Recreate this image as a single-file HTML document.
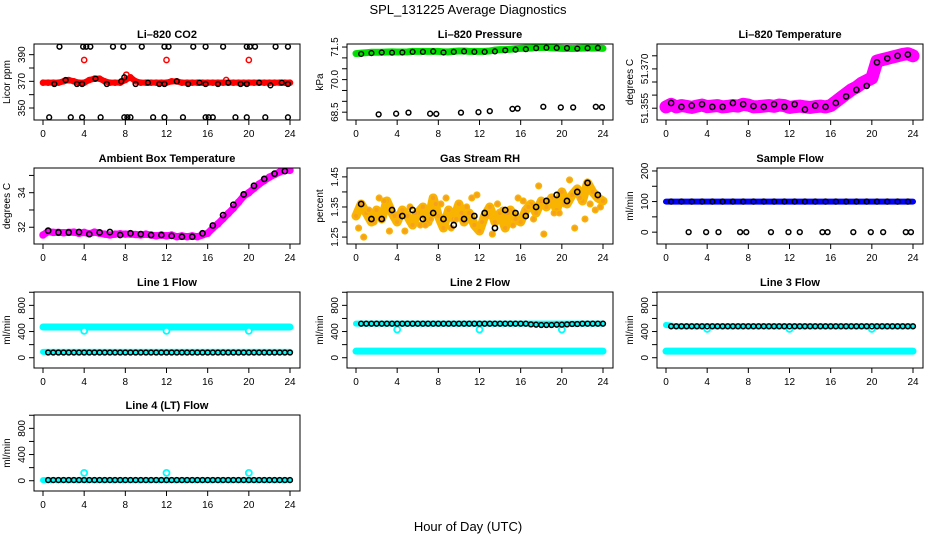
<!DOCTYPE html>
<html><head><meta charset="utf-8"><style>
body{margin:0;background:#fff;}
svg{display:block;font-family:"Liberation Sans",sans-serif;}
</style></head><body>
<svg id="c" width="936" height="540" viewBox="0 0 936 540">
<text x="468" y="14" text-anchor="middle" font-size="13">SPL_131225  Average Diagnostics</text>
<text x="468" y="531" text-anchor="middle" font-size="13">Hour of Day (UTC)</text>
</svg>
<script>
const H = [0,0.5,1,1.5,2,2.5,3,3.5,4,4.5,5,5.5,6,6.5,7,7.5,8,8.5,9,9.5,10,10.5,11,11.5,12,12.5,13,13.5,14,14.5,15,15.5,16,16.5,17,17.5,18,18.5,19,19.5,20,20.5,21,21.5,22,22.5,23,23.5,24];
const HB = [0.5,1.5,2.5,3.5,4.5,5.5,6.5,7.5,8.5,9.5,10.5,11.5,12.5,13.5,14.5,15.5,16.5,17.5,18.5,19.5,20.5,21.5,22.5,23.5];
const HBq = [0.25,1.25,2.25,3.25,4.25,5.25,6.25,7.25,8.25,9.25,10.25,11.25,12.25,13.25,14.25,15.25,16.25,17.25,18.25,19.25,20.25,21.25,22.25,23.25,0.75,1.75,2.75,3.75,4.75,5.75,6.75,7.75,8.75,9.75,10.75,11.75,12.75,13.75,14.75,15.75,16.75,17.75,18.75,19.75,20.75,21.75,22.75,23.75];
const H2 = [0.5,1,1.5,2,2.5,3,3.5,4,4.5,5,5.5,6,6.5,7,7.5,8,8.5,9,9.5,10,10.5,11,11.5,12,12.5,13,13.5,14,14.5,15,15.5,16,16.5,17,17.5,18,18.5,19,19.5,20,20.5,21,21.5,22,22.5,23,23.5,24];
const HR = [0,1,2,3,4,5,6,7,8,9,10,11,12,13,14,15,16,17,18,19,20,21,22,23,24];
const xTicks = [0,4,8,12,16,20,24];

const co2Red = [369,369,369,369,370,371,370,369,369,371,372,372,370,369,369,369,371,373,370,369,369,369,369,369,369,370,370,369,369,369,369,369,369,369,369,369,369,369,369,369,369,369,369,369,369,369,369,369,369];
const co2RedOutHours = [4,12,20,8.1,17.8];
const co2RedOutVals = [386,386,386,375,371];
const co2BlkHours = [1.1,2.2,3.3,3.8,5.1,6.2,7.6,7.9,9.0,10.2,11.3,11.8,13.0,14.1,15.2,15.8,17.0,18.0,19.2,19.8,21.0,22.1,23.2,23.8,1.6,3.9,4.2,4.6,6.8,7.8,9.6,11.8,12.2,14.6,15.8,17.5,19.8,20.1,20.6,22.6,23.8,0.6,2.7,3.8,5.6,7.9,8.2,8.5,10.7,11.8,13.6,15.8,16.1,16.5,18.7,19.8,21.6,23.8];
const co2BlkVals = [368,371,368,368,372,368,370,373,368,369,368,368,370,368,369,368,368,369,368,368,369,367,369,368,396,396,396,396,396,396,396,396,396,396,396,396,396,396,396,396,396,343,343,343,343,343,343,343,343,343,343,343,343,343,343,343,343,343];
const presGreen = [71.2,71.22,71.24,71.26,71.26,71.26,71.27,71.28,71.27,71.27,71.28,71.3,71.3,71.3,71.3,71.3,71.3,71.28,71.28,71.3,71.32,71.32,71.3,71.3,71.3,71.3,71.32,71.36,71.38,71.38,71.4,71.42,71.44,71.45,71.45,71.47,71.48,71.48,71.46,71.45,71.44,71.43,71.43,71.44,71.45,71.45,71.45,71.45,71.44];
const presBlk = [71.18,71.22,71.25,71.24,71.25,71.28,71.28,71.3,71.25,71.28,71.3,71.28,71.28,71.3,71.35,71.38,71.4,71.45,71.47,71.46,71.45,71.43,71.45,71.46];
const presLowHours = [2.2,3.9,5.1,7.2,7.8,10.2,11.9,13.0,15.2,15.7,18.2,19.9,21.1,23.3,23.9];
const presLowVals = [68.4,68.43,68.48,68.43,68.42,68.48,68.5,68.55,68.65,68.67,68.75,68.72,68.72,68.75,68.73];
const ltMag = [51.3555,51.3565,51.3555,51.3560,51.3557,51.3553,51.3558,51.3562,51.3556,51.3558,51.3560,51.3555,51.3557,51.3560,51.3558,51.3565,51.3562,51.3555,51.3556,51.3558,51.3560,51.3557,51.3562,51.3560,51.3553,51.3556,51.3558,51.3555,51.3553,51.3556,51.3558,51.3555,51.3560,51.3575,51.3590,51.3605,51.3620,51.3630,51.3645,51.3655,51.3665,51.3730,51.3735,51.3740,51.3745,51.3750,51.3755,51.3758,51.3750];
const ltBlk = [51.357,51.3555,51.356,51.3565,51.3555,51.3555,51.357,51.3565,51.3558,51.3555,51.3565,51.3555,51.3565,51.3545,51.356,51.3555,51.357,51.3595,51.362,51.3635,51.3725,51.374,51.375,51.3755];
const ambMag = [31.55,31.75,31.7,31.7,31.68,31.7,31.72,31.65,31.7,31.62,31.72,31.65,31.6,31.55,31.6,31.62,31.6,31.6,31.58,31.55,31.6,31.55,31.5,31.55,31.5,31.55,31.45,31.5,31.45,31.5,31.45,31.55,31.65,31.95,32.2,32.5,32.8,33.1,33.45,33.8,34.0,34.25,34.5,34.7,34.9,35.05,35.2,35.3,35.3];
const ambBlk = [31.8,31.7,31.7,31.72,31.6,31.7,31.72,31.55,31.65,31.6,31.55,31.55,31.5,31.45,31.45,31.65,32.1,32.7,33.3,33.9,34.4,34.8,35.1,35.25];
const rhA = [1.32,1.36,1.33,1.30,1.34,1.31,1.37,1.33,1.30,1.34,1.32,1.29,1.33,1.35,1.30,1.38,1.32,1.28,1.34,1.31,1.36,1.30,1.33,1.29,1.27,1.32,1.35,1.30,1.33,1.28,1.34,1.31,1.30,1.34,1.36,1.33,1.37,1.35,1.38,1.34,1.40,1.36,1.39,1.41,1.37,1.43,1.40,1.38,1.37];
const rhB = [1.28,1.34,1.38,1.27,1.32,1.35,1.29,1.31,1.36,1.28,1.33,1.38,1.30,1.26,1.34,1.29,1.37,1.31,1.26,1.33,1.36,1.28,1.31,1.34,1.25,1.30,1.37,1.32,1.27,1.33,1.29,1.36,1.38,1.31,1.35,1.39,1.32,1.36,1.33,1.38,1.35,1.42,1.37,1.33,1.44,1.38,1.36,1.35];
const rhBlk = [1.36,1.31,1.31,1.34,1.32,1.34,1.31,1.33,1.31,1.29,1.31,1.32,1.33,1.28,1.34,1.33,1.32,1.35,1.37,1.39,1.37,1.40,1.43,1.39];
const sfBlue = [100,100,100,100,100,100,100,100,100,100,100,100,100,100,100,100,100,100,100,100,100,100,100,100,100];
const sfBlk = [100,100,100,100,100,100,100,100,100,100,100,100,100,100,100,100,100,100,100,100,100,100,100,100];
const sfZeroHours = [2.2,3.9,5.1,7.2,7.8,10.2,11.9,13.0,15.2,15.7,18.2,19.9,21.1,23.3,23.8];
const sfZeroVals = [0,0,0,0,0,0,0,0,0,0,0,0,0,0,0];
const l1CyanTop = [470,470,470,470,470,470,470,470,470,470,470,470,470,470,470,470,470,470,470,470,470,470,470,470,470];
const l1CyanBot = [90,90,90,90,90,90,90,90,90,90,90,90,90,90,90,90,90,90,90,90,90,90,90,90,90];
const l1Blk = [80,80,80,80,80,80,80,80,80,80,80,80,80,80,80,80,80,80,80,80,80,80,80,80,80,80,80,80,80,80,80,80,80,80,80,80,80,80,80,80,80,80,80,80,80,80,80,80];
const l2CyanTop = [520,520,520,520,520,520,520,520,520,520,520,520,520,520,520,520,520,520,520,520,520,520,520,520,520];
const l2CyanBot = [100,100,100,100,100,100,100,100,100,100,100,100,100,100,100,100,100,100,100,100,100,100,100,100,100];
const l2Blk = [520,520,520,520,520,520,520,520,520,520,520,520,520,520,520,520,520,520,520,520,520,520,520,520,520,520,520,520,520,520,520,520,520,510,505,500,500,500,505,505,510,515,515,520,520,520,520,520];
const l3CyanTop = [500,480,480,480,480,480,480,480,480,480,480,480,480,480,480,480,480,480,480,480,480,480,480,480,480];
const l3CyanBot = [100,100,100,100,100,100,100,100,100,100,100,100,100,100,100,100,100,100,100,100,100,100,100,100,100];
const l3Blk = [480,480,480,480,480,480,480,480,480,480,480,480,480,480,480,480,480,480,480,480,480,480,480,480,480,480,480,480,480,480,480,480,480,480,480,480,480,480,480,480,480,480,480,480,480,480,480,480];
const l4Cyan = [10,10,10,10,10,10,10,10,10,10,10,10,10,10,10,10,10,10,10,10,10,10,10,10,10];
const l4Blk = [10,10,10,10,10,10,10,10,10,10,10,10,10,10,10,10,10,10,10,10,10,10,10,10,10,10,10,10,10,10,10,10,10,10,10,10,10,10,10,10,10,10,10,10,10,10,10,10];
const flowOutHours = [4,12,20];
const l1Out = [410,410,410];
const l2Out = [430,430,430];
const l3Out = [440,440,440];
const l4Out = [120,120,120];

const NS = 'http://www.w3.org/2000/svg';
const svg = document.getElementById('c');
function mk(tag, attrs, parent) {
  const e = document.createElementNS(NS, tag);
  for (const k in attrs) e.setAttribute(k, attrs[k]);
  (parent || svg).appendChild(e);
  return e;
}
const colL = [34, 347, 657], rowT = [44, 168, 292, 415];
const BW = 266, BH = 76;

function panel(name, col, row, title, ylab, ymin, ymax, yticks, ylabels, draw) {
  const g = mk('g', {});
  
  
  const L = colL[col], T = rowT[row];
  const xs = h => L + 9 + h * 247 / 24;
  const ys = v => T + BH - (v - ymin) / (ymax - ymin) * BH;
  const t = mk('text', {x: L + BW / 2, y: T - 6, 'text-anchor': 'middle', 'font-size': 11, 'font-weight': 'bold'}, g);
  t.textContent = title;
  
  
  const yl = mk('text', {x: 0, y: 0, 'text-anchor': 'middle', 'font-size': 10, transform: `translate(${L - 24},${T + BH / 2}) rotate(-90)`}, g);
  yl.textContent = ylab;
  
  
  const xa = mk('g', {}, g);
  
  
  xTicks.forEach(h => {
    mk('line', {x1: xs(h), x2: xs(h), y1: T + BH, y2: T + BH + 5, stroke: '#000'}, xa);
    const tx = mk('text', {x: xs(h), y: T + BH + 17, 'text-anchor': 'middle', 'font-size': 10}, xa);
    tx.textContent = h;
  });
  const ya = mk('g', {}, g);
  
  
  yticks.forEach(v => {
    mk('line', {x1: L - 5, x2: L, y1: ys(v), y2: ys(v), stroke: '#000'}, ya);
  });
  ylabels.forEach(v => {
    const tx = mk('text', {x: 0, y: 0, 'text-anchor': 'middle', 'font-size': 10, transform: `translate(${L - 9},${ys(v[0])}) rotate(-90)`}, ya);
    tx.textContent = v[1];
  });
  const clip = 'cl' + name;
  const cp = mk('clipPath', {id: clip}, g);
  mk('rect', {x: L, y: T, width: BW, height: BH}, cp);
  const d = mk('g', {'clip-path': `url(#${clip})`}, g);
  
  
  draw({d, xs, ys});
  const box = mk('rect', {x: L, y: T, width: BW, height: BH, fill: 'none', stroke: '#000', 'stroke-width': 1}, g);
  
  
}
function band(c, hours, vals, color, w) {
  const pts = hours.map((h, i) => c.xs(h) + ',' + c.ys(vals[i])).join(' ');
  const p = mk('polyline', {points: pts, fill: 'none', stroke: color, 'stroke-width': w, 'stroke-linejoin': 'round', 'stroke-linecap': 'round'}, c.d);
  
  
}
function dots(c, hours, vals, color, r, sw, fill) {
  hours.forEach((h, i) => {
    const e = mk('circle', {cx: c.xs(h), cy: c.ys(vals[i]), r: r, fill: fill || 'none', stroke: color, 'stroke-width': sw || 1.6}, c.d);
    
    
  });
}

panel('co2', 0, 0, 'Li–820 CO2', 'Licor ppm', 341, 398, [350,360,370,380,390], [[350,'350'],[370,'370'],[390,'390']], c => {
  band(c, H, co2Red, '#f00', 6);
  dots(c, H, co2Red, '#f00', 2.6, 1.4);
  dots(c, co2RedOutHours, co2RedOutVals, '#f00', 2.6, 1.5);
  dots(c, co2BlkHours, co2BlkVals, '#000', 2.4, 1.5);
});
panel('pressure', 1, 0, 'Li–820 Pressure', 'kPa', 68.14, 71.64, [68.5,69,69.5,70,70.5,71,71.5], [[68.5,'68.5'],[70,'70.0'],[71.5,'71.5']], c => {
  band(c, H, presGreen, '#00e000', 7);
  dots(c, HB, presBlk, '#000', 2.4, 1.4);
  dots(c, presLowHours, presLowVals, '#000', 2.4, 1.5);
});
panel('li-temp', 2, 0, 'Li–820 Temperature', 'degrees C', 51.3505, 51.3795, [51.355,51.36,51.365,51.37,51.375], [[51.355,'51.355'],[51.37,'51.370']], c => {
  band(c, H, ltMag, '#f0f', 13);
  dots(c, H, ltMag, '#f0f', 3, 1.5);
  dots(c, HB, ltBlk, '#000', 2.6, 1.5);
});
panel('ambient', 0, 1, 'Ambient Box Temperature', 'degrees C', 31.03, 35.43, [32,33,34,35], [[32,'32'],[34,'34']], c => {
  band(c, H, ambMag, '#f0f', 7);
  dots(c, H, ambMag, '#f0f', 3, 1.5);
  dots(c, HB, ambBlk, '#000', 2.6, 1.6);
});
panel('rh', 1, 1, 'Gas Stream RH', 'percent', 1.227, 1.4795, [1.25,1.3,1.35,1.4,1.45], [[1.25,'1.25'],[1.35,'1.35'],[1.45,'1.45']], c => {
  band(c, H, rhA, '#f8b400', 9);
  dots(c, H, rhA, '#f8b400', 2.8, 1.5, '#f7a020');
  dots(c, HBq, rhB, '#f8b400', 2.8, 1.5, '#f7a020');
  dots(c, HB, rhBlk, '#000', 2.6, 1.6);
});
panel('sample-flow', 2, 1, 'Sample Flow', 'ml/min', -38.7, 209.7, [0,50,100,150,200], [[0,'0'],[100,'100'],[200,'200']], c => {
  band(c, HR, sfBlue, '#00f', 6);
  dots(c, HB, sfBlk, '#000', 2.4, 1.5);
  dots(c, sfZeroHours, sfZeroVals, '#000', 2.4, 1.5);
});
const fT = [0,200,400,600,800,1000], fL = [[0,'0'],[400,'400'],[800,'800']];
panel('line1-flow', 0, 2, 'Line 1 Flow', 'ml/min', -157, 1004, fT, fL, c => {
  band(c, HR, l1CyanTop, '#0ff', 7);
  band(c, HR, l1CyanBot, '#0ff', 6);
  dots(c, flowOutHours, l1Out, '#0ff', 3, 1.8, '#fff');
  dots(c, H2, l1Blk, '#000', 2.4, 1.5);
});
panel('line2-flow', 1, 2, 'Line 2 Flow', 'ml/min', -157, 1004, fT, fL, c => {
  band(c, HR, l2CyanBot, '#0ff', 7);
  band(c, HR, l2CyanTop, '#0ff', 6);
  dots(c, flowOutHours, l2Out, '#0ff', 3, 1.8, '#fff');
  dots(c, H2, l2Blk, '#000', 2.4, 1.5);
});
panel('line3-flow', 2, 2, 'Line 3 Flow', 'ml/min', -157, 1004, fT, fL, c => {
  band(c, HR, l3CyanBot, '#0ff', 7);
  band(c, HR, l3CyanTop, '#0ff', 6);
  dots(c, flowOutHours, l3Out, '#0ff', 3, 1.8, '#fff');
  dots(c, H2, l3Blk, '#000', 2.4, 1.5);
});
panel('line4-flow', 0, 3, 'Line 4 (LT) Flow', 'ml/min', -157, 1004, fT, fL, c => {
  band(c, HR, l4Cyan, '#0ff', 6);
  dots(c, flowOutHours, l4Out, '#0ff', 3, 1.8, '#fff');
  dots(c, H2, l4Blk, '#000', 2.4, 1.5);
});
</script>
</body></html>
